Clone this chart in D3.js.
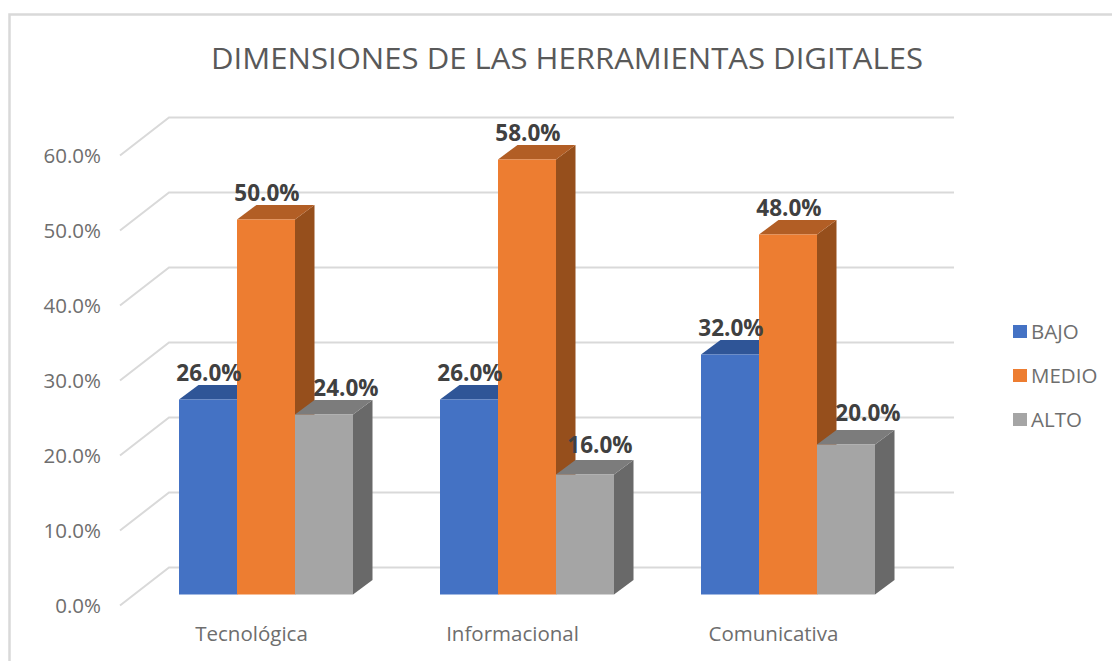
<!DOCTYPE html>
<html>
<head>
<meta charset="utf-8">
<script src="https://cdn.jsdelivr.net/npm/d3@7"></script>
<style>
    html, body { margin: 0; padding: 0; background: #fff; }
    svg { display: block; }
    text { font-family: "Open Sans", sans-serif; }
</style>
</head>
<body>
<div id="chart"></div>
<script>
var categories = ['Tecnológica', 'Informacional', 'Comunicativa'];
var seriesNames = ['BAJO', 'MEDIO', 'ALTO'];
var bajo = [26, 26, 32];
var medio = [50, 58, 48];
var alto = [24, 16, 20];
var yTicks = [0, 10, 20, 30, 40, 50, 60];
var titleText = 'DIMENSIONES DE LAS HERRAMIENTAS DIGITALES';

var width = 1112, height = 661;
var seriesValues = [bajo, medio, alto];

// front / top / side face per series
var faceColors = [
    {front: '#4472c4', top: '#2f5597', side: '#2a4a85'},
    {front: '#ed7d31', top: '#b25e25', side: '#964f1c'},
    {front: '#a5a5a5', top: '#7c7c7c', side: '#696969'}
];

var wallDepth = {x: 49, y: -38};
var barDepth = {x: 19.5, y: -14.5};

var svg = d3.select('#chart')
    .append('svg')
        .attr('width', width)
        .attr('height', height);

// Chart frame
svg.append('path')
    .attr('d', 'M9.5,' + height + 'V14.5H' + width)
    .attr('fill', 'none')
    .attr('stroke', '#d9d9d9')
    .attr('stroke-width', 2.5);

svg.append('text')
    .attr('x', 567)
    .attr('y', 69)
    .attr('text-anchor', 'middle')
    .attr('font-size', 30)
    .attr('textLength', 712)
    .attr('lengthAdjust', 'spacingAndGlyphs')
    .attr('fill', '#595959')
    .text(titleText);

// Scales
var yBar = d3.scaleLinear().domain([0, 60]).range([594.5, 144.5]);
var yWall = d3.scaleLinear().domain([0, 60]).range([605.5, 155.5]);
var xGroup = d3.scaleBand().domain(categories).range([135.5, 918.5])
    .paddingInner(1 / 3).paddingOuter(1 / 6);
var xBar = d3.scaleBand().domain(seriesNames).range([0, xGroup.bandwidth()]);

// Grid: slanted side wall + back wall lines
var grid = svg.append('g')
    .attr('fill', 'none')
    .attr('stroke', '#d9d9d9')
    .attr('stroke-width', 2);

grid.selectAll('path')
    .data(yTicks)
    .enter()
    .append('path')
        .attr('d', function (d) {
            var p = d3.path();
            p.moveTo(120, yWall(d));
            p.lineTo(120 + wallDepth.x, yWall(d) + wallDepth.y);
            p.lineTo(954, yWall(d) + wallDepth.y);
            return p.toString();
        });

// Value axis labels
var yAxis = svg.append('g')
    .attr('transform', 'translate(101,0)')
    .call(d3.axisLeft(yWall).tickValues(yTicks).tickSize(0).tickPadding(0)
        .tickFormat(function (d) { return d.toFixed(1) + '%'; }));
yAxis.select('.domain').remove();
yAxis.selectAll('text')
    .attr('dy', '0.36em')
    .attr('font-size', 20.5)
    .attr('fill', '#6e6e6e')
    .style('font-family', '"Open Sans", sans-serif');

// Category labels
var xAxis = svg.append('g')
    .attr('transform', 'translate(-14.5,626)')
    .call(d3.axisBottom(xGroup).tickSize(0).tickPadding(0));
xAxis.select('.domain').remove();
xAxis.selectAll('text')
    .attr('dy', '0.71em')
    .attr('font-size', 20.5)
    .attr('fill', '#6e6e6e')
    .style('font-family', '"Open Sans", sans-serif');

// Bars, back to front
function boxFaces(x, w, y0, y1) {
    var dx = barDepth.x, dy = barDepth.y;
    return {
        side: [[x + w, y0], [x + w + dx, y0 + dy], [x + w + dx, y1 + dy], [x + w, y1]],
        top: [[x, y1], [x + dx, y1 + dy], [x + w + dx, y1 + dy], [x + w, y1]],
        front: [[x, y0], [x + w, y0], [x + w, y1], [x, y1]]
    };
}

var line = d3.line();
var labels = [];

categories.forEach(function (cat, c) {
    seriesNames.forEach(function (name, s) {
        var value = seriesValues[s][c];
        var x = xGroup(cat) + xBar(name);
        var faces = boxFaces(x, xBar.bandwidth(), yBar(0), yBar(value));
        var g = svg.append('g').attr('class', 'bar');
        ['side', 'top', 'front'].forEach(function (face) {
            g.append('path')
                .attr('d', line(faces[face]) + 'Z')
                .attr('fill', faceColors[s][face]);
        });
        labels.push({value: value, s: s, x: x + xBar.bandwidth() / 2});
    });
});

// Data labels sit above the bar; the ALTO ones are pushed right of the orange bar
var altoLift = {24: 19, 16: 22, 20: 24};
svg.selectAll('.value-label')
    .data(labels)
    .enter()
    .append('text')
        .attr('class', 'value-label')
        .attr('x', function (d) {
            if (d.s !== 2) return d.x + 1;
            return d.x + (d.value === 16 ? 15 : 22);
        })
        .attr('y', function (d) {
            return yBar(d.value) - (d.s === 2 ? altoLift[d.value] : 19);
        })
        .attr('text-anchor', 'middle')
        .attr('font-size', 22.5)
        .attr('font-weight', 'bold')
        .attr('fill', '#404040')
        .text(function (d) { return d.value.toFixed(1) + '%'; });

// Legend
var yLegend = d3.scalePoint().domain(seriesNames).range([331.5, 419.5]);
var legend = svg.selectAll('.legend')
    .data(seriesNames)
    .enter()
    .append('g')
        .attr('class', 'legend')
        .attr('transform', function (d) { return 'translate(1013,' + yLegend(d) + ')'; });

legend.append('rect')
    .attr('y', -6.5)
    .attr('width', 14)
    .attr('height', 13)
    .attr('fill', function (d, i) { return faceColors[i].front; });

legend.append('text')
    .attr('x', 18)
    .attr('dy', '0.36em')
    .attr('font-size', 20.5)
    .attr('fill', '#6e6e6e')
    .text(function (d) { return d; });
</script>
</body>
</html>
